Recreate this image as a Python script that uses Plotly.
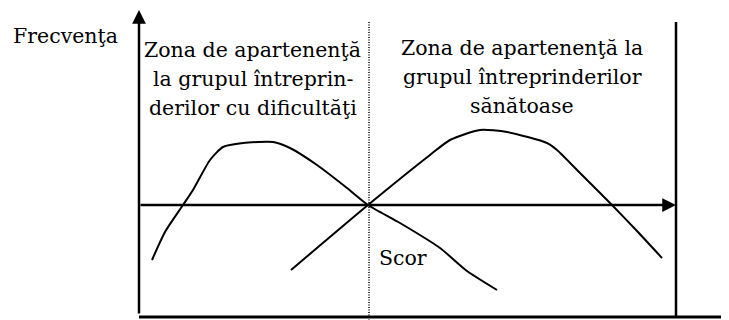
import plotly.graph_objects as go

# curba intreprinderilor cu dificultati (scor, frecventa)
scor_dificultati = [152, 165, 183, 193, 210, 223, 243, 273, 290, 317, 347, 368, 400, 440, 467, 497]
frecv_dificultati = [-55, -27, 0, 15, 45, 58, 62, 63, 57, 40, 17, 0, -18, -43, -66, -85]

# curba intreprinderilor sanatoase
scor_sanatoase = [291, 368, 430, 450, 480, 507, 547, 557, 580, 612, 637, 662]
frecv_sanatoase = [-65, 0, 50, 65, 75, 73, 62, 55, 32, 0, -26, -53]

zona_dificultati = ['Zona de apartenenţă', 'la grupul întreprin-', 'derilor cu dificultăţi']
zona_sanatoase = ['Zona de apartenenţă la', 'grupul întreprinderilor', 'sănătoase']
eticheta_y = 'Frecvenţa'
eticheta_x = 'Scor'

# geometria schemei (unitati = pixeli)
X_AX = 139
X_PRAG = 369
X_DR = 676
Y_SUS = 195
Y_JOS = -112

FONT = dict(family='DejaVu Serif', size=20.5, color='black')

fig = go.Figure()

for xs, ys in [(scor_dificultati, frecv_dificultati), (scor_sanatoase, frecv_sanatoase)]:
    fig.add_trace(go.Scatter(x=xs, y=ys, mode='lines', line=dict(color='black', width=2, shape='spline', smoothing=0.6),
                             hoverinfo='skip', showlegend=False))

# linii fixe
fig.add_shape(type='line', x0=X_PRAG, x1=X_PRAG, y0=183, y1=-115, line=dict(color='black', width=1.5, dash='1px,1.5px'))
fig.add_shape(type='line', x0=X_DR, x1=X_DR, y0=183, y1=Y_JOS, line=dict(color='black', width=2.5))
fig.add_shape(type='line', x0=X_AX, x1=729, y0=Y_JOS, y1=Y_JOS, line=dict(color='black', width=3))

# axe cu sageti
fig.add_annotation(x=X_AX, y=Y_SUS, ax=X_AX, ay=-110, xref='x', yref='y', axref='x', ayref='y',
                   text='', showarrow=True, arrowhead=2, arrowsize=1.1, arrowwidth=2.5, arrowcolor='black')
fig.add_annotation(x=X_DR, y=0, ax=X_AX, ay=0, xref='x', yref='y', axref='x', ayref='y',
                   text='', showarrow=True, arrowhead=2, arrowsize=1.1, arrowwidth=2.5, arrowcolor='black')

# texte
for i, t in enumerate(zona_dificultati):
    fig.add_annotation(x=252.5, y=155 - 29 * i, text=t, showarrow=False, font=FONT, xanchor='center', yanchor='middle')
for i, t in enumerate(zona_sanatoase):
    fig.add_annotation(x=522, y=157 - 29 * i, text=t, showarrow=False, font=FONT, xanchor='center', yanchor='middle')
fig.add_annotation(x=65, y=169, text=eticheta_y, showarrow=False, font=FONT, xanchor='center', yanchor='middle')
fig.add_annotation(x=377, y=-53, text=eticheta_x, showarrow=False, font=FONT, xanchor='left', yanchor='middle')

# pagina are 8px margine implicita, deci figura incepe la (8, 8)
fig.update_xaxes(range=[8, 729], visible=False, fixedrange=True)
fig.update_yaxes(range=[-115, 197], visible=False, fixedrange=True)
fig.update_layout(width=721, height=312, margin=dict(l=0, r=0, t=0, b=0),
                  paper_bgcolor='white', plot_bgcolor='white')

fig.write_html('out.html')
